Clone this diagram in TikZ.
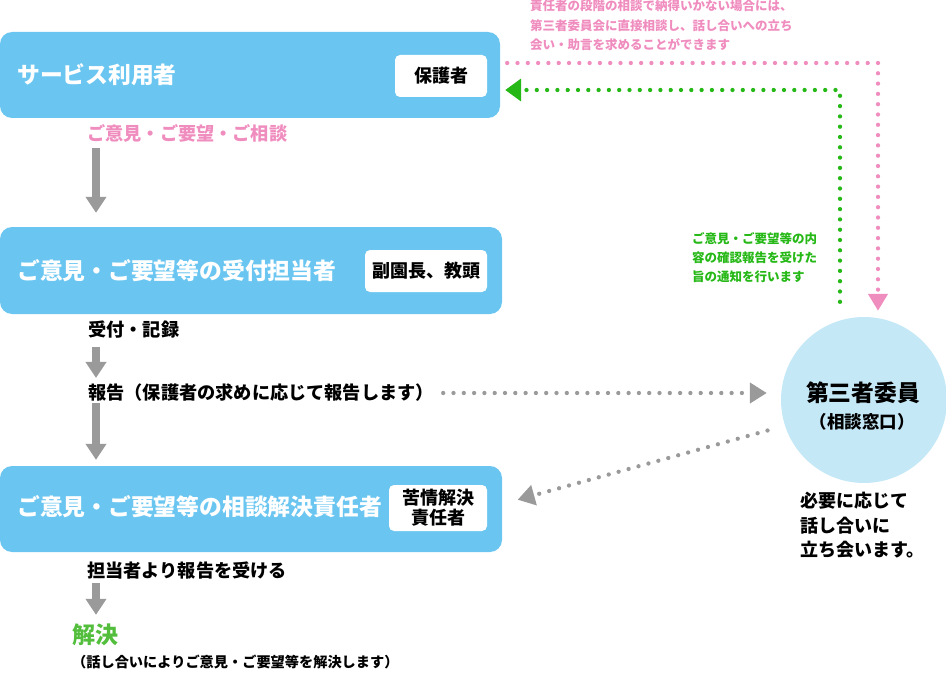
\documentclass[tikz,border=0pt]{standalone}
\usepackage{fontspec}
\setmainfont{Noto Sans CJK JP}
\usetikzlibrary{arrows.meta}
\definecolor{boxblue}{HTML}{6AC6F1}
\definecolor{circblue}{HTML}{C5E8F7}
\definecolor{notepink}{HTML}{F08DBF}
\definecolor{notegreen}{HTML}{25B816}
\definecolor{solvegreen}{HTML}{52BE3C}
\definecolor{arrgray}{HTML}{9A9A9A}

\begin{document}
\begin{tikzpicture}[x=1pt, y=-1pt,
    bluebox/.style={fill=boxblue, rounded corners=12pt, minimum width=502pt, minimum height=86pt},
    tagbox/.style={fill=white, rounded corners=5pt, minimum height=42pt, inner sep=0pt, align=center,
        font=\bfseries\fontsize{18}{21}\selectfont},
    boxtext/.style={anchor=west, inner sep=0pt, text=white, font=\bfseries\fontsize{22.8}{26}\selectfont},
    steptext/.style={anchor=west, inner sep=0pt, font=\bfseries\fontsize{18.2}{22}\selectfont},
    fatarrow/.style={draw=arrgray, line width=8pt, -{Triangle[length=16pt, width=20pt]}},
    dotline/.style={line width=4.3pt, line cap=round, dash pattern=on 0pt off 10.3pt}
]
    \useasboundingbox (0,0) rectangle (946,677);
    \coordinate (ax) at (96,0);

    % the three stages
    \node (b1) at (250,75) [bluebox, minimum width=500pt] {};
    \node (b2) at (251,270.5) [bluebox, minimum height=87pt] {};
    \node (b3) at (251,509) [bluebox] {};

    \node (b1t) at (17,75) [boxtext] {サービス利用者};
    \node (b2t) at (17,271) [boxtext] {ご意見・ご要望等の受付担当者};
    \node (b3t) at (17,507) [boxtext] {ご意見・ご要望等の相談解決責任者};

    \node (t1) at (441,76) [tagbox, minimum width=92pt] {保護者};
    \node (t2) at (426,271) [tagbox, minimum width=122pt] {副園長、教頭};
    \node (t3) at (438,508) [tagbox, minimum width=98pt, minimum height=46pt] {苦情解決\\[-1pt]責任者};

    % labels between the stages
    \node (l1) at (87,133) [steptext, text=notepink] {ご意見・ご要望・ご相談};
    \node (l2) at (88,330) [steptext] {受付・記録};
    \node (l3) at (88,393) [steptext] {報告（保護者の求めに応じて報告します）};
    \node (l4) at (87,571) [steptext] {担当者より報告を受ける};
    \node (s1) at (72,635) [anchor=west, inner sep=0pt, text=solvegreen, font=\bfseries\fontsize{23}{26}\selectfont] {解決};
    \node (s2) at (72,662) [anchor=west, inner sep=0pt, font=\bfseries\fontsize{14.2}{17}\selectfont] {（話し合いによりご意見・ご要望等を解決します）};

    \draw [fatarrow, shorten <=6pt, shorten >=14pt] (l1.south -| ax) -- (b2.north -| ax);
    \draw [fatarrow, shorten <=8pt, shorten >=6pt] (l2.south -| ax) -- (l3.north -| ax);
    \draw [fatarrow, shorten <=1pt, shorten >=6pt] (l3.south -| ax) -- (b3.north -| ax);
    \draw [fatarrow, shorten <=3pt, shorten >=9pt] (l4.south -| ax) -- (s1.north -| ax);

    % third party committee
    \node (c1) at (864,400) [circle, fill=circblue, minimum size=166pt, inner sep=0pt] {};
    \node (c1t) at (863,393) [inner sep=0pt, font=\bfseries\fontsize{22.8}{26}\selectfont] {第三者委員};
    \node (c1s) at (862,422) [inner sep=0pt, font=\bfseries\fontsize{17.5}{20}\selectfont] {（相談窓口）};
    \node (n1) at (800,492) [anchor=north west, inner sep=0pt, align=left, font=\bfseries\fontsize{18}{24.5}\selectfont] {必要に応じて\\話し合いに\\立ち会います。};

    \draw [arrgray, dotline, shorten <=9pt, shorten >=14pt, -{Triangle[length=17pt, width=20pt]}] (l3.east) -- (l3.east -| c1.west);
    \draw [arrgray, dotline, shorten <=18pt, shorten >=16pt, -{Triangle[length=17pt, width=20pt]}] (c1.198) -- ([yshift=5pt]b3.east);

    % direct consultation and notification
    \node (p1) at (530,0) [anchor=north west, inner sep=0pt, align=left, text=notepink, font=\bfseries\fontsize{12.5}{19.3}\selectfont] {責任者の段階の相談で納得いかない場合には、\\第三者委員会に直接相談し、話し合いへの立ち\\会い・助言を求めることができます};
    \node (g1) at (692,232) [anchor=north west, inner sep=0pt, align=left, text=notegreen, font=\bfseries\fontsize{12.5}{19.3}\selectfont] {ご意見・ご要望等の内\\容の確認報告を受けた\\旨の通知を行います};

    \draw [notepink, dotline, shorten <=7pt, shorten >=6pt, -{Triangle[length=17pt, width=19pt]}] ([yshift=12pt]b1.east) -| ([xshift=14pt]c1.north);
    \draw [notegreen, dotline, shorten <=15pt, shorten >=5pt, -{Triangle[length=16pt, width=22pt]}] ([xshift=-24pt]c1.north) |- ([yshift=-15pt]b1.east);
\end{tikzpicture}
\end{document}
